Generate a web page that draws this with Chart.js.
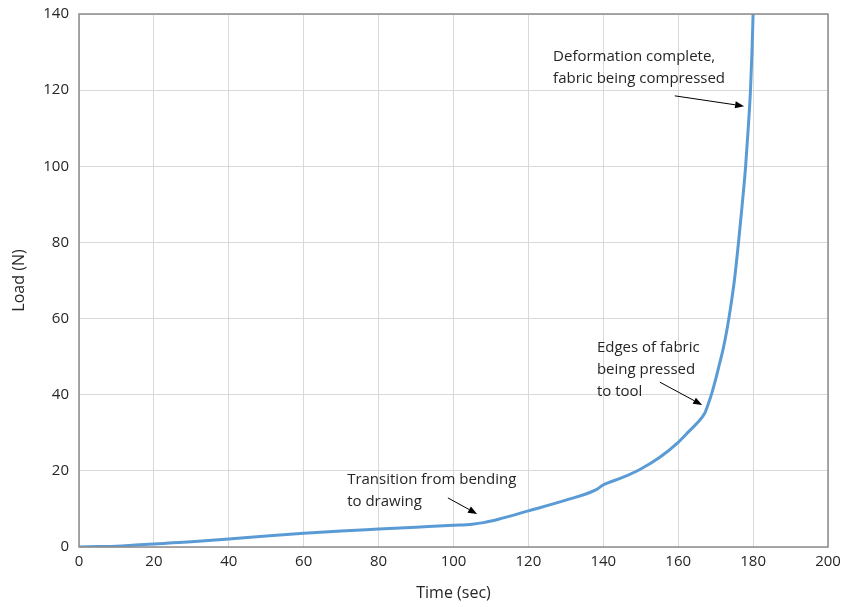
<!DOCTYPE html>
<html>
<head>
<meta charset="utf-8">
<script src="https://cdn.jsdelivr.net/npm/chart.js@4.4.1/dist/chart.umd.min.js"></script>
<style>
  html, body { margin: 0; padding: 0; background: #fff; }
  #wrap { width: 844px; height: 607px; position: relative; }
</style>
</head>
<body>
<div id="wrap"><canvas id="c"></canvas></div>
<script>
// Load vs time for the forming test.
const timeSec = [0, 5, 10, 15, 20, 25, 30, 40, 50, 60, 70, 80, 90, 100, 105, 108, 112, 120, 130, 138,
                 140, 145, 150, 155, 160, 163, 165, 167, 168, 169, 170, 171, 172, 173, 174, 175, 176, 177, 178,
                 178.7, 179.3, 179.7, 180];
const loadN   = [0, 0.1, 0.2, 0.5, 0.8, 1.1, 1.4, 2.1, 2.9, 3.6, 4.2, 4.7, 5.2, 5.7, 6.0, 6.4, 7.3, 9.5, 12.3, 15,
                 16.3, 18.2, 20.5, 23.5, 27.5, 30.5, 32.5, 35, 37.5, 40.5, 44, 48, 52, 57, 63, 70, 79, 89, 100,
                 110, 120, 130, 140];

// Annotation text lines (anchor = left edge / first line centre, in data units)
const notes = [
    { lines: ["Transition from bending", "to drawing"], x: 71.6, y: 17.6 },
    { lines: ["Edges of fabric", "being pressed", "to tool"], x: 138.3, y: 52.3 },
    { lines: ["Deformation complete,", "fabric being compressed"], x: 126.6, y: 128.7 },
];
// Arrows: [fromX, fromY, toX, toY] in data units
const arrows = [
    [98.5, 12.9, 106.3, 8.7],
    [155.1, 43.3, 166.4, 37.3],
    [159.1, 118.5, 177.6, 115.8],
];

const FONT = "'Open Sans', 'Noto Sans', sans-serif";

const annotate = {
    id: "annotate",
    afterDatasetsDraw(chart) {
        const { ctx, chartArea: a, scales: { x, y } } = chart;
        ctx.save();
        // frame around the plot
        ctx.strokeStyle = "#8c8c8c";
        ctx.lineWidth = 1.5;
        ctx.strokeRect(a.left, a.top, a.right - a.left, a.bottom - a.top);

        ctx.fillStyle = "#262626";
        ctx.font = "15px " + FONT;
        ctx.textBaseline = "middle";
        ctx.textAlign = "left";
        for (const n of notes) {
            const px = x.getPixelForValue(n.x);
            const py = y.getPixelForValue(n.y);
            n.lines.forEach((t, i) => ctx.fillText(t, px, py + i * 22));
        }

        ctx.strokeStyle = "#000";
        ctx.fillStyle = "#000";
        ctx.lineWidth = 1;
        for (const [x0, y0, x1, y1] of arrows) {
            const ax = x.getPixelForValue(x0), ay = y.getPixelForValue(y0);
            const bx = x.getPixelForValue(x1), by = y.getPixelForValue(y1);
            const ang = Math.atan2(by - ay, bx - ax);
            const len = 9, w = 3.5;
            const hx = bx - len * Math.cos(ang), hy = by - len * Math.sin(ang);
            ctx.beginPath();
            ctx.moveTo(ax, ay);
            ctx.lineTo(hx, hy);
            ctx.stroke();
            ctx.beginPath();
            ctx.moveTo(bx, by);
            ctx.lineTo(hx + w * Math.sin(ang), hy - w * Math.cos(ang));
            ctx.lineTo(hx - w * Math.sin(ang), hy + w * Math.cos(ang));
            ctx.closePath();
            ctx.fill();
        }
        ctx.restore();
    },
};

new Chart(document.getElementById("c"), {
    type: "line",
    data: {
        datasets: [{
            data: timeSec.map((t, i) => ({ x: t, y: loadN[i] })),
            borderColor: "#5b9bd5",
            borderWidth: 3,
            pointRadius: 0,
            fill: false,
            cubicInterpolationMode: "monotone",
        }],
    },
    options: {
        responsive: true,
        maintainAspectRatio: false,
        animation: false,
        layout: { padding: { left: 6, right: 16, top: 14, bottom: 0 } },
        plugins: { legend: { display: false }, tooltip: { enabled: false } },
        scales: {
            x: {
                type: "linear",
                min: 0, max: 200,
                ticks: { stepSize: 20, color: "#262626", font: { family: FONT, size: 15 }, padding: 6 },
                grid: { color: "#d9d9d9", drawTicks: false },
                border: { display: false },
                title: { display: true, text: "Time (sec)", color: "#262626", font: { family: FONT, size: 16 }, padding: { top: 2 } },
                afterFit: (s) => { s.height = 60; s.paddingLeft = 0; s.paddingRight = 0; },
            },
            y: {
                min: 0, max: 140,
                ticks: { stepSize: 20, color: "#262626", font: { family: FONT, size: 15 }, padding: 10 },
                grid: { color: "#d9d9d9", drawTicks: false },
                border: { display: false },
                title: { display: true, text: "Load (N)", color: "#262626", font: { family: FONT, size: 16 }, padding: { bottom: 4 } },
                afterFit: (s) => { s.width = 73; s.paddingTop = 0; s.paddingBottom = 0; },
            },
        },
    },
    plugins: [annotate],
});
</script>
</body>
</html>
